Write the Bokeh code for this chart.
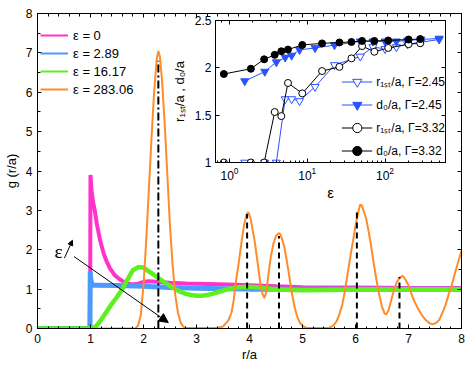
from bokeh.plotting import figure
from bokeh.models import (FixedTicker, LinearAxis, LogAxis, Legend, LegendItem, Arrow,
                          NormalHead, Label, CustomJSTickFormatter, LogTicker)
from bokeh.layouts import column
from bokeh.embed import file_html
from bokeh.resources import INLINE

FONT = "Liberation Sans"
NAN = float("nan")

# ---------------- main panel data: g(r/a) ----------------
# eps = 0 (magenta)
r_m = [0.0, 0.985, 0.995, 1.0, 1.02, 1.05, 1.08, 1.12, 1.18, 1.25, 1.3, 1.37, 1.46, 1.55,
       1.65, 1.78, 1.9, 2.0, 2.1, 2.3, 2.5, 2.8, 3.2, 3.6, 4.0, 4.5, 5.0, 6.0, 7.0, 8.0]
g_m = [0.0, 0.0, 1.5, 3.9, 3.5, 3.2, 3.0, 2.65, 2.25, 1.9, 1.72, 1.52, 1.35, 1.25,
       1.17, 1.12, 1.14, 1.18, 1.2, 1.18, 1.16, 1.14, 1.13, 1.12, 1.1, 1.07, 1.05, 1.04, 1.03, 1.03]
# eps = 2.89 (blue)
r_b = [0.0, 0.99, 0.995, 1.0, 1.02, 1.05, 1.1, 1.5, 2.0, 2.5, 3.0, 3.5, 4.0, 5.0, 6.0, 7.0, 8.0]
g_b = [0.0, 0.0, 1.45, 1.3, 1.15, 1.1, 1.1, 1.09, 1.07, 1.04, 1.02, 1.01, 1.0, 1.0, 1.0, 1.0, 1.0]
# eps = 16.17 (green)
r_g = [0.0, 1.0, 1.1, 1.2, 1.3, 1.4, 1.5, 1.6, 1.7, 1.8, 1.9, 2.0, 2.1, 2.2, 2.3, 2.4, 2.5,
       2.6, 2.7, 2.8, 2.9, 3.0, 3.1, 3.2, 3.3, 3.4, 3.5, 3.6, 3.7, 3.8, 4.0, 4.2, 4.4, 4.6,
       4.8, 5.0, 5.5, 6.0, 6.5, 7.0, 7.5, 8.0]
g_g = [0.0, 0.0, 0.05, 0.22, 0.42, 0.62, 0.8, 1.0, 1.25, 1.48, 1.56, 1.55, 1.45, 1.36, 1.26,
       1.17, 1.08, 1.0, 0.93, 0.88, 0.85, 0.83, 0.83, 0.85, 0.88, 0.92, 0.96, 1.0, 1.03, 1.05,
       1.06, 1.04, 1.01, 0.99, 0.98, 0.97, 0.98, 0.99, 1.0, 1.0, 1.0, 1.0]
# eps = 283.06 (orange)
r_o = [0.0, 1.85, 1.9, 1.95, 2.0, 2.05, 2.1, 2.15, 2.2, 2.25, 2.28, 2.31, 2.35, 2.4, 2.45,
       2.5, 2.55, 2.6, 2.65, 2.7, 2.75, 2.8, 3.4, 3.5, 3.6, 3.66, 3.7, 3.75, 3.8, 3.85, 3.9,
       3.95, 3.98, 4.02, 4.06, 4.1, 4.15, 4.2, 4.24, 4.28, 4.32, 4.36, 4.4, 4.45, 4.5, 4.55,
       4.58, 4.62, 4.66, 4.7, 4.76, 4.8, 4.85, 4.9, 4.95, 5.0, 5.05, 5.1, 5.5, 5.55, 5.6,
       5.65, 5.7, 5.75, 5.8, 5.85, 5.9, 5.95, 6.0, 6.05, 6.09, 6.12, 6.15, 6.2, 6.25, 6.3,
       6.35, 6.4, 6.45, 6.5, 6.55, 6.58, 6.62, 6.67, 6.72, 6.78, 6.84, 6.89, 6.94, 7.0, 7.05,
       7.1, 7.18, 7.25, 7.32, 7.4, 7.46, 7.52, 7.58, 7.64, 7.7, 7.76, 7.82, 7.88, 7.94, 8.0]
g_o = [0.0, 0.0, 0.08, 0.35, 1.1, 2.2, 3.5, 4.8, 6.0, 6.85, 7.05, 6.9, 6.3, 5.2, 3.9,
       2.6, 1.6, 0.85, 0.4, 0.15, 0.05, 0.01, 0.02, 0.05, 0.2, 0.4, 0.7, 1.25, 1.7, 2.2, 2.65,
       2.92, 2.95, 2.8, 2.5, 2.2, 1.7, 1.2, 0.9, 0.77, 0.95, 1.4, 1.8, 2.15, 2.35, 2.42,
       2.4, 2.25, 2.05, 1.75, 1.25, 0.9, 0.55, 0.3, 0.15, 0.07, 0.03, 0.01, 0.02, 0.05, 0.1,
       0.2, 0.38, 0.6, 0.95, 1.38, 1.8, 2.2, 2.6, 2.95, 3.15, 3.12, 3.0, 2.8, 2.45, 2.05,
       1.6, 1.2, 0.85, 0.55, 0.38, 0.36, 0.45, 0.7, 0.95, 1.18, 1.3, 1.34, 1.25, 1.1, 0.9,
       0.72, 0.5, 0.35, 0.22, 0.13, 0.11, 0.14, 0.22, 0.4, 0.6, 0.88, 1.12, 1.42, 1.7, 1.97]

series_labels = ["ε = 0", "ε = 2.89", "ε = 16.17", "ε = 283.06"]
series_colors = ["#ff33cc", "#4d9aff", "#5ef01e", "#ff8c28"]

# peak markers (first one dash-dot, the others dashed)
peak_r = [2.28, 3.955, 4.557, 6.026, 6.83]
peak_g = [6.8, 2.91, 2.35, 3.01, 1.31]

main_xticks = [0, 1, 2, 3, 4, 5, 6, 7, 8]
main_yticks = [0, 1, 2, 3, 4, 5, 6, 7, 8]
main_xminor = [i / 5 for i in range(41)]
main_yminor = [i / 2 for i in range(17)]

# arrow annotation (data coords)
arrow_big = (0.689, 1.827, 2.467, 0.152)
arrow_small = (0.508, 1.787, 0.659, 2.24)
eps_text_pos = (0.395, 1.95)

# ---------------- inset data ----------------
black_eps = [0.845, 1.88, 2.79, 3.81, 4.64, 5.65, 8.63, 15.5, 25.9, 37.0, 50.7, 73.0, 110.0, 201.0, 284.0]
black_r1st = [1.0, 1.0, 1.0, 1.533, 1.49, 1.84, 1.73, 1.966, 2.01, 2.10, 2.23, 2.17, 2.21, 2.25, 2.26]
black_d0 = [1.935, 1.99, 2.09, 2.137, 2.175, 2.193, 2.242, 2.258, 2.268, 2.273, 2.284, 2.284, 2.289, 2.299, 2.304]

blue_eps = [1.57, 2.84, 4.0, 5.2, 6.3, 7.96, 12.6, 22.4, 48.0, 70.0, 100.0, 140.0, 195.0, 290.0, 497.0]
blue_r1st = [1.0, 1.0, 1.0, 1.67, 1.67, 1.65, 1.80, 2.03, 2.12, 2.22, 2.20, 2.22, 2.25, 2.27, 2.30]
blue_d0 = [1.86, 1.96, 2.06, 2.11, 2.13, 2.19, 2.21, 2.24, 2.28, 2.28, 2.28, 2.28, 2.29, 2.30, 2.31]

inset_labels = ["r₁ₛₜ/a, Γ=2.45", "d₀/a, Γ=2.45", "r₁ₛₜ/a, Γ=3.32", "d₀/a, Γ=3.32"]
inset_yticks = [1, 1.5, 2, 2.5]
BLUE = "#2a52ff"

EMPTY = "return ''"


def style_axis(ax, size="12px", lsize="13px"):
    ax.axis_line_color = "black"
    ax.major_tick_line_color = "black"
    ax.minor_tick_line_color = "black"
    ax.major_tick_in = 4
    ax.major_tick_out = 0
    ax.minor_tick_in = 2
    ax.minor_tick_out = 0
    ax.major_label_text_font = FONT
    ax.major_label_text_font_size = size
    ax.major_label_text_color = "black"
    ax.axis_label_text_font = FONT
    ax.axis_label_text_font_size = lsize
    ax.axis_label_text_font_style = "normal"
    ax.axis_label_text_color = "black"


def mirror_axis(cls, ticker):
    ax = cls(ticker=ticker, formatter=CustomJSTickFormatter(code=EMPTY), major_label_standoff=0)
    style_axis(ax, size="1px")
    return ax


# ================= main figure =================
p = figure(width=469, height=365, x_range=(0, 8), y_range=(0, 8),
           output_backend="svg", toolbar_location=None, frame_align=False,
           min_border_left=36, min_border_right=8, min_border_top=13, min_border_bottom=37)
p.grid.visible = False
p.outline_line_color = "black"
p.background_fill_color = "white"
p.border_fill_color = "white"

xt = FixedTicker(ticks=main_xticks, minor_ticks=main_xminor)
yt = FixedTicker(ticks=main_yticks, minor_ticks=main_yminor)
p.xaxis.ticker = xt
p.yaxis.ticker = yt
p.xaxis.axis_label = "r/a"
p.yaxis.axis_label = "g (r/a)"
style_axis(p.xaxis[0])
style_axis(p.yaxis[0])
p.xaxis.major_label_standoff = 5
p.xaxis.axis_label_standoff = 1
p.yaxis.major_label_standoff = 5
p.yaxis.axis_label_standoff = 4

top_ax = mirror_axis(LinearAxis, xt)
right_ax = mirror_axis(LinearAxis, yt)
p.add_layout(top_ax, "above")
p.add_layout(right_ax, "right")
for ax in (p.xaxis[0], p.yaxis[0], top_ax, right_ax):
    ax.minor_tick_in = 3

curves = [(r_m, g_m, 4), (r_b, g_b, 5), (r_g, g_g, 4.5), (r_o, g_o, 2)]
for (rr, gg, w), col in zip(curves, series_colors):
    p.line(rr, gg, line_color=col, line_width=w)
legend_items = []
for col, lab in zip(series_colors, series_labels):
    dummy = p.line([NAN], [NAN], line_color=col, line_width=2)
    legend_items.append(LegendItem(label=lab, renderers=[dummy]))

p.segment(x0=peak_r[:1], y0=[0], x1=peak_r[:1], y1=peak_g[:1],
          line_color="black", line_width=2, line_dash="8 3 2 3")
p.segment(x0=peak_r[1:], y0=[0] * 4, x1=peak_r[1:], y1=peak_g[1:],
          line_color="black", line_width=2, line_dash="6 4")

p.add_layout(Arrow(end=NormalHead(size=9, fill_color="black", line_color="black", line_width=1),
                   x_start=arrow_big[0], y_start=arrow_big[1], x_end=arrow_big[2], y_end=arrow_big[3],
                   line_color="black", line_width=1))
p.add_layout(Arrow(end=NormalHead(size=5, fill_color="black", line_color="black", line_width=1),
                   x_start=arrow_small[0], y_start=arrow_small[1], x_end=arrow_small[2], y_end=arrow_small[3],
                   line_color="black", line_width=1))
p.add_layout(Label(x=eps_text_pos[0], y=eps_text_pos[1], text="ε", text_font="Liberation Serif",
                   text_font_size="19px", text_align="center", text_baseline="middle", text_color="black"))

leg = Legend(items=legend_items, location="top_left", glyph_width=28, glyph_height=18,
             label_height=18, label_standoff=5, spacing=0, padding=8, margin=3,
             title=" ", title_text_font_size="8px", title_standoff=1,
             border_line_color=None, background_fill_alpha=0,
             label_text_font=FONT, label_text_font_size="13px", label_text_color="black")
p.add_layout(leg)

# ================= inset figure =================
ins = figure(width=299, height=193, x_axis_type="log", x_range=(0.66, 600), y_range=(1, 2.5),
             output_backend="svg", toolbar_location=None, frame_align=False,
             min_border_left=47, min_border_right=22, min_border_top=10, min_border_bottom=38,
             margin=(-355, 0, 0, 168))
ins.grid.visible = False
ins.outline_line_color = "black"
ins.background_fill_color = "white"
ins.border_fill_color = None

iyt = FixedTicker(ticks=inset_yticks, minor_ticks=[])
ins.yaxis.ticker = iyt
ins.yaxis.formatter = CustomJSTickFormatter(code="return String(tick)")
ins.xaxis.axis_label = "ε"
ins.yaxis.axis_label = "r₁ₛₜ/a , d₀/a"
style_axis(ins.xaxis[0], lsize="15px")
style_axis(ins.yaxis[0])
ins.xaxis.major_label_standoff = 4
ins.xaxis.axis_label_standoff = 1
ins.yaxis.major_label_standoff = 4
ins.yaxis.axis_label_standoff = 5

itop = mirror_axis(LogAxis, LogTicker())
iright = mirror_axis(LinearAxis, iyt)
ins.add_layout(itop, "above")
ins.add_layout(iright, "right")

items = []
series = [
    (blue_eps, blue_r1st, BLUE, "white", "inverted_triangle", 8),
    (blue_eps, blue_d0, BLUE, BLUE, "inverted_triangle", 8),
    (black_eps, black_r1st, "black", "white", "circle", 7),
    (black_eps, black_d0, "black", "black", "circle", 7),
]
for (xs, ys, lc, fc, mk, sz), lab in zip(series, inset_labels):
    lr = ins.line(xs, ys, line_color=lc, line_width=1)
    sr = ins.scatter(xs, ys, marker=mk, size=sz, line_color=lc, fill_color=fc, line_width=1)
    items.append(LegendItem(label=lab, renderers=[lr, sr]))

ileg = Legend(items=items, location="bottom_right", glyph_width=31, glyph_height=23,
              label_height=23, label_standoff=4, spacing=0, padding=0, margin=0,
              border_line_color=None, background_fill_alpha=0,
              label_text_font=FONT, label_text_font_size="12px", label_text_color="black")
ins.add_layout(ileg)

layout = column(p, ins, spacing=0)
open("out.html", "w").write(file_html(layout, INLINE))
